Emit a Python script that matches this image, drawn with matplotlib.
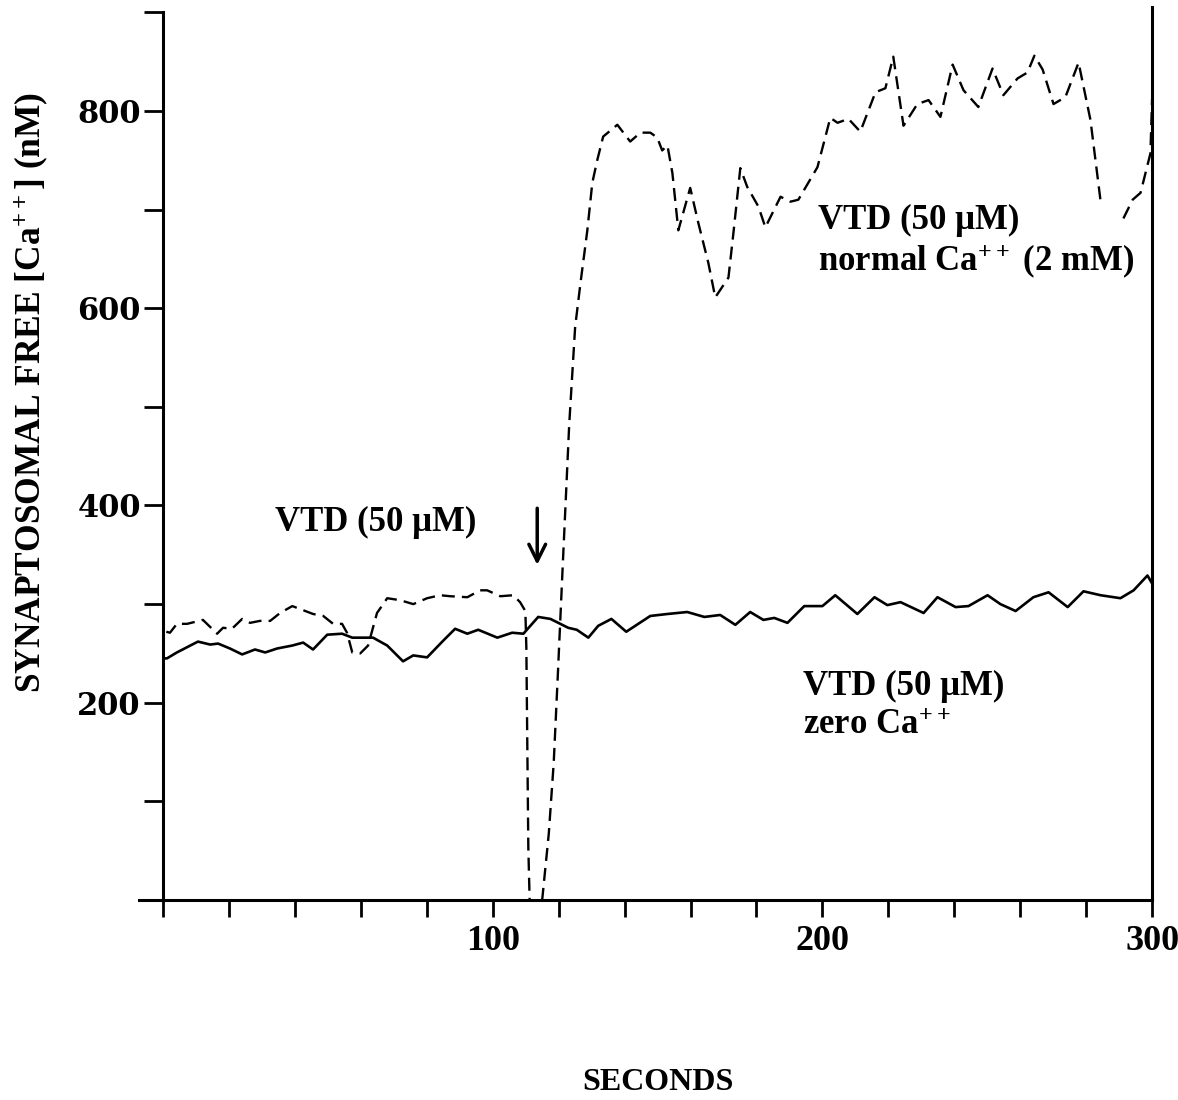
import numpy as np
import matplotlib
matplotlib.use("Agg")
import matplotlib.pyplot as plt

plt.rcParams['font.family'] = ['Liberation Serif', 'DejaVu Serif']
plt.rcParams['font.weight'] = 'bold'
plt.rcParams['axes.labelweight'] = 'bold'
plt.rcParams['mathtext.fontset'] = 'custom'
plt.rcParams['mathtext.rm'] = 'Liberation Serif:bold'
plt.rcParams['mathtext.bf'] = 'Liberation Serif:bold'
plt.rcParams['mathtext.it'] = 'Liberation Serif:bold'

# zero Ca++ trace (solid)
t_zero = [0, 1.2, 4.2, 10.6, 14.3, 16.7, 20.3, 24.0, 27.9, 31.0, 34.6, 39.2, 42.5, 45.5,
          49.8, 54.3, 57.4, 60.7, 63.7, 68.0, 72.8, 75.9, 80.1, 85.0, 88.6, 92.3, 95.6,
          101.4, 105.9, 109.3, 113.8, 117.5, 122.9, 125.5, 129.0, 132.0, 136.0, 140.5,
          147.8, 153.0, 159.0, 164.2, 169.0, 173.6, 178.1, 182.1, 185.4, 189.4, 194.5,
          200.0, 203.9, 210.6, 215.8, 219.7, 223.7, 230.7, 234.9, 240.4, 244.3, 250.1,
          254.0, 258.6, 264.0, 268.6, 274.4, 279.2, 284.4, 290.4, 294.4, 298.6, 300.0]
ca_zero = [245, 245, 251, 262, 259, 260, 255, 249, 254, 251, 255, 258, 261, 254,
           269, 270, 266, 266, 266, 258, 242, 248, 246, 263, 275, 270, 274,
           266, 271, 270, 287, 285, 276, 274, 266, 278, 285, 272,
           288, 290, 292, 287, 289, 279, 292, 284, 286, 281, 298,
           298, 309, 290, 307, 299, 302, 291, 307, 297, 298, 309,
           300, 293, 307, 312, 297, 313, 309, 306, 314, 329, 321]

# normal Ca++ (2 mM) trace (dashed), nan = break in the trace
t_norm = [1.0, 2.1, 4.2, 7.3, 12.1, 16.4, 18.2, 20.9, 24.0, 26.4, 29.4, 32.5, 35.5, 39.2,
          41.6, 45.5, 48.6, 51.6, 54.3, 55.8, 57.4, 59.8, 62.2, 64.9, 68.0, 71.9, 75.9,
          80.1, 84.1, 87.1, 92.3, 96.2, 98.3, 102.3, 106.2, 108.3, 109.9, 110.2, 110.5,
          110.8, 111.2, 113.0, 115.0, 117.0, 118.5, 119.8, 121.1, 123.2, 125.0, 126.6,
          128.7, 130.2, 131.7, 133.5, 137.8, 141.7, 144.8, 147.8, 149.9, 151.4, 153.0,
          154.5, 156.3, 159.9, 162.4, 165.4, 167.5, 171.5, 173.0, 175.1, 177.2, 180.6,
          182.7, 187.3, 190.3, 192.7, 198.5, 202.4, 204.6, 207.9, 211.5, 216.1, 219.1,
          221.5, 224.6, 228.8, 232.2, 235.8, 239.5, 242.8, 247.3, 251.6, 254.9, 259.2,
          262.2, 264.3, 266.8, 270.1, 273.7, 277.7, 281.3, 284.4, 288.0, 291.3, 294.1,
          296.5, 299.5, 300.0]
ca_norm = [272, 271, 280, 280, 284, 270, 276, 275, 285, 281, 283, 283, 291, 298,
           295, 290, 288, 280, 280, 271, 251, 250, 258, 291, 306, 304, 300,
           306, 309, 308, 307, 314, 314, 308, 309, 302, 293, 256, 154,
           53, 0, -60, 0, 67, 139, 232, 329, 482, 581, 625,
           679, 727, 750, 774, 786, 769, 778, 778, 773, 760, 765,
           737, 679, 722, 686, 646, 611, 631, 676, 742, 723, 703,
           682, 713, 708, 710, 743, 793, 788, 792, 779, 819, 823,
           855, 785, 807, 811, 794, 847, 821, 804, 843, 816, 833,
           839, 856, 842, 807, 814, 849, 791, 708, np.nan, 691, 710,
           717, 757, 812]

x_ticks = np.arange(0, 301, 20)
x_labels = ['' if v % 100 or v == 0 else str(v) for v in x_ticks]
y_ticks = np.arange(100, 901, 100)
y_labels = [str(v) if v % 200 == 0 and v < 900 else '' for v in y_ticks]

fig = plt.figure(figsize=(11.78, 11.0), dpi=100)
ax = fig.add_axes([0.1384, 0.1818, 0.8396, 0.807])

ax.plot(t_zero, ca_zero, color='black', lw=1.9, solid_joinstyle='round')
ax.plot(t_norm, ca_norm, color='black', lw=1.7, linestyle=(0, (5.5, 3)))

ax.set_xlim(0, 300)
ax.set_ylim(0, 900)

for s in ['left', 'right', 'bottom']:
    ax.spines[s].set_linewidth(2.2)
ax.spines['top'].set_visible(False)
ax.spines['right'].set_bounds(0, 905)
# bottom axis line runs a little past the y axis
ax.plot([-0.024, 0], [0, 0], transform=ax.transAxes, color='black', lw=2.2, clip_on=False)

ax.set_xticks(x_ticks)
ax.set_xticklabels(x_labels, fontsize=26)
ax.set_yticks(y_ticks)
ax.set_yticklabels(y_labels, fontsize=22, fontfamily='DejaVu Serif')
ax.tick_params(axis='x', direction='out', length=12, width=2, pad=6)
ax.tick_params(axis='y', direction='out', length=14, width=2, pad=2)

ax.set_ylabel('SYNAPTOSOMAL FREE [Ca$^{++}$] (nM)', fontsize=25.5, fontweight='bold')
ax.yaxis.set_label_coords(-0.113, 0.572)
fig.text(658 / 1178, 1 - 1082 / 1100, 'SECONDS', fontsize=23, fontweight='bold',
         ha='center', va='center')

ax.text(198.8, 689, 'VTD (50 μM)', fontsize=25, va='center')
ax.text(198.8, 648, 'normal Ca$^{++}$ (2 mM)', fontsize=25, va='center')
ax.text(194.2, 216, 'VTD (50 μM)', fontsize=25, va='center')
ax.text(194.2, 177, 'zero Ca$^{++}$', fontsize=25, va='center')
ax.text(34, 383, 'VTD (50 μM)', fontsize=25, va='center')
ax.annotate('', xy=(113.5, 337), xytext=(113.5, 400),
            arrowprops=dict(arrowstyle='->', color='black', lw=2.5, mutation_scale=30))

fig.savefig('out.png', dpi=100)
